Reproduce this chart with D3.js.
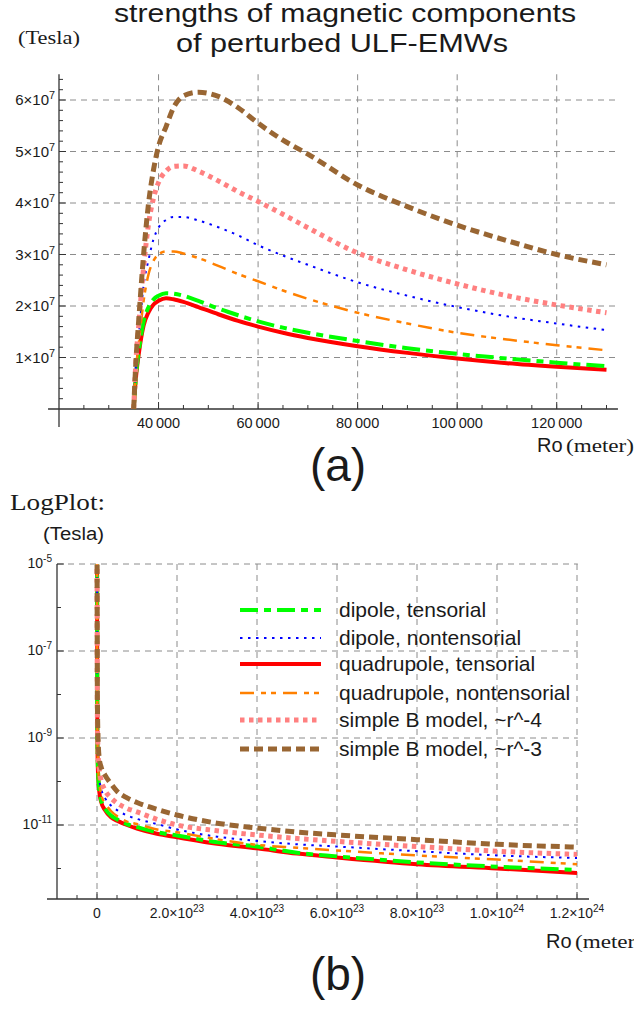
<!DOCTYPE html>
<html>
<head>
<meta charset="utf-8">
<script src="https://cdn.jsdelivr.net/npm/d3@7"></script>
<style>
body{margin:0;background:#fff}
text{font-family:"Liberation Sans",Arial,sans-serif;fill:#1a1a1a}
.serif{font-family:"Liberation Serif","DejaVu Serif",serif}
</style>
</head>
<body>
<svg id="chart" width="634" height="1010"></svg>
<script>
"use strict";

// ---- data ----
const seriesNames = ["dipole, tensorial", "dipole, nontensorial", "quadrupole, tensorial",
  "quadrupole, nontensorial", "simple B model, ~r^-4", "simple B model, ~r^-3"];

// (a) linear plot, Ro in meter
const topR = [35000, 35500, 36000, 37000, 38000, 39000, 40000, 41500, 43000, 45000, 48000,
  52000, 56000, 60000, 65000, 70000, 80000, 90000, 100000, 110000, 120000, 130000];
const topDipoleT = [0, 0.7e7, 1.1e7, 1.7e7, 1.98e7, 2.13e7, 2.2e7, 2.25e7, 2.24e7, 2.2e7, 2.1e7,
  1.95e7, 1.82e7, 1.7e7, 1.58e7, 1.48e7, 1.32e7, 1.18e7, 1.07e7, 0.98e7, 0.9e7, 0.83e7];
const topDipoleN = [0, 0.9e7, 1.4e7, 2.4e7, 2.9e7, 3.3e7, 3.52e7, 3.67e7, 3.73e7, 3.73e7, 3.66e7,
  3.53e7, 3.37e7, 3.18e7, 2.98e7, 2.8e7, 2.46e7, 2.2e7, 1.98e7, 1.8e7, 1.66e7, 1.53e7];
const topQuadT = [0, 0.65e7, 1.05e7, 1.62e7, 1.88e7, 2.03e7, 2.1e7, 2.15e7, 2.13e7, 2.08e7, 1.98e7,
  1.84e7, 1.71e7, 1.6e7, 1.48e7, 1.38e7, 1.22e7, 1.09e7, 0.98e7, 0.89e7, 0.82e7, 0.76e7];
const topQuadN = [0, 0.8e7, 1.25e7, 2.1e7, 2.62e7, 2.88e7, 3.0e7, 3.06e7, 3.06e7, 3.02e7, 2.93e7,
  2.78e7, 2.62e7, 2.48e7, 2.3e7, 2.14e7, 1.87e7, 1.66e7, 1.48e7, 1.35e7, 1.24e7, 1.14e7];
const topSimple4 = [0, 1.0e7, 1.6e7, 2.75e7, 3.6e7, 4.1e7, 4.4e7, 4.62e7, 4.71e7, 4.72e7, 4.62e7,
  4.43e7, 4.22e7, 4.03e7, 3.78e7, 3.52e7, 3.03e7, 2.7e7, 2.43e7, 2.2e7, 2.02e7, 1.87e7];
const topSimple3 = [0, 1.0e7, 1.7e7, 3.0e7, 4.0e7, 4.65e7, 5.1e7, 5.48e7, 5.85e7, 6.08e7, 6.15e7,
  6.07e7, 5.85e7, 5.55e7, 5.22e7, 4.95e7, 4.35e7, 3.93e7, 3.57e7, 3.27e7, 3.0e7, 2.8e7];

// (b) log plot
const logR = [1e20, 1e21, 3e21, 6e21, 1e22, 2e22, 3.5e22, 5e22, 7.5e22, 1e23, 1.5e23, 2e23,
  3e23, 4e23, 5e23, 6e23, 8e23, 1e24, 1.2e24];
const logDipoleT = [2e-5, 7.9e-10, 1.4e-10, 6.3e-11, 3.8e-11, 2.4e-11, 1.66e-11, 1.35e-11, 1.05e-11,
  8.9e-12, 6.8e-12, 5.75e-12, 4.0e-12, 3.2e-12, 2.3e-12, 1.9e-12, 1.38e-12, 1.1e-12, 9.3e-13];
const logDipoleN = [2e-5, 1.6e-9, 2.5e-10, 1.1e-10, 7.1e-11, 4.2e-11, 2.8e-11, 2.2e-11, 1.66e-11,
  1.38e-11, 1.05e-11, 7.9e-12, 5.4e-12, 4.3e-12, 3.6e-12, 3.2e-12, 2.5e-12, 2.0e-12, 1.74e-12];
const logQuadT = [2e-5, 7.1e-10, 1.26e-10, 5.6e-11, 3.5e-11, 2.2e-11, 1.5e-11, 1.26e-11, 1.0e-11,
  8.3e-12, 6.3e-12, 5.25e-12, 3.7e-12, 2.9e-12, 2.2e-12, 1.8e-12, 1.26e-12, 1.0e-12, 7.9e-13];
const logQuadN = [2e-5, 1.26e-9, 2.0e-10, 8.9e-11, 5.2e-11, 3.2e-11, 2.1e-11, 1.6e-11, 1.2e-11,
  1.05e-11, 7.9e-12, 6.8e-12, 4.7e-12, 3.5e-12, 3.0e-12, 2.6e-12, 2.0e-12, 1.6e-12, 1.26e-12];
const logSimple4 = [2e-5, 2.5e-9, 4.0e-10, 1.8e-10, 1.1e-10, 6.3e-11, 4.2e-11, 3.2e-11, 2.4e-11,
  2.0e-11, 1.35e-11, 1.0e-11, 7.4e-12, 5.9e-12, 4.9e-12, 4.2e-12, 3.2e-12, 2.5e-12, 2.1e-12];
const logSimple3 = [2e-5, 6.3e-9, 7.9e-10, 3.2e-10, 2.2e-10, 1.4e-10, 8.9e-11, 6.0e-11, 4.2e-11,
  3.3e-11, 2.3e-11, 1.7e-11, 1.1e-11, 8.5e-12, 6.9e-12, 5.9e-12, 4.6e-12, 3.6e-12, 3.1e-12];

// tick labels
const topXTicks = [40000, 60000, 80000, 100000, 120000];
const topXLabels = ["40\u2009000", "60\u2009000", "80\u2009000", "100\u2009000", "120\u2009000"];
const topYTicks = [1e7, 2e7, 3e7, 4e7, 5e7, 6e7];
const topYLabels = ["1", "2", "3", "4", "5", "6"];
const logXTicks = [0, 2e23, 4e23, 6e23, 8e23, 1e24, 1.2e24];
const logXLabels = [["0", ""], ["2.0\u00d710", "23"], ["4.0\u00d710", "23"], ["6.0\u00d710", "23"],
  ["8.0\u00d710", "23"], ["1.0\u00d710", "24"], ["1.2\u00d710", "24"]];
const logYTicks = [1e-5, 1e-7, 1e-9, 1e-11];
const logYLabels = ["-5", "-7", "-9", "-11"];
const logYMinor = [1e-6, 1e-8, 1e-10, 1e-12];

// ---- styles ----
const colors = ["#00ff00", "#0000ff", "#ff0000", "#ff8000", "#ff8080", "#996633"];
const widths = [4, 2, 4, 2.5, 5, 5];
const dashes = ["18,6,7,6", "2.5,5.5", null, "14,7,5,5,5,7", "4.5,4.5", "9,5"];
const drawOrder = [2, 0, 1, 3, 4, 5];

const svg = d3.select("#chart");
const gridColor = "#8c8c8c";
const axisColor = "#333";

function supText(g, x, y, base, sup, anchor, size) {
  const t = g.append("text").attr("x", x).attr("y", y).attr("font-size", size)
    .attr("text-anchor", anchor);
  t.append("tspan").text(base);
  if (sup) t.append("tspan").attr("dy", -6).attr("font-size", size * 0.72).text(sup);
  return t;
}

// ================= (a) =================
const ga = svg.append("g");
const xa = d3.scaleLinear().domain([20000, 130000]).range([59, 606.5]);
const ya = d3.scaleLinear().domain([0, 6e7]).range([409, 100]);

// grid
ga.selectAll(".vg").data(topXTicks).join("line")
  .attr("x1", d => xa(d)).attr("x2", d => xa(d))
  .attr("y1", ya(6.5e7)).attr("y2", ya(0))
  .attr("stroke", gridColor).attr("stroke-dasharray", "6,5");
ga.selectAll(".hg").data(topYTicks).join("line")
  .attr("x1", xa(20000)).attr("x2", xa(132300))
  .attr("y1", d => ya(d)).attr("y2", d => ya(d))
  .attr("stroke", gridColor).attr("stroke-dasharray", "6,5");

// axes
const axA = ga.append("g").attr("stroke", axisColor);
axA.append("line").attr("x1", xa(17800)).attr("x2", xa(132300)).attr("y1", ya(0)).attr("y2", ya(0)).attr("stroke-width", 1.3);
axA.append("line").attr("x1", xa(20000)).attr("x2", xa(20000)).attr("y1", ya(6.5e7)).attr("y2", ya(-0.35e7)).attr("stroke-width", 1.3);

const xaMinor = d3.range(25000, 130001, 5000).filter(d => !topXTicks.includes(d));
axA.selectAll(".xt").data(xaMinor).join("line")
  .attr("x1", d => xa(d)).attr("x2", d => xa(d)).attr("y1", ya(0)).attr("y2", ya(0) - 4);
axA.selectAll(".xT").data(topXTicks).join("line")
  .attr("x1", d => xa(d)).attr("x2", d => xa(d)).attr("y1", ya(0)).attr("y2", ya(0) - 7);
const yaMinor = d3.range(2e6, 6.5e7, 2e6).filter(d => !topYTicks.some(t => Math.abs(t - d) < 1));
axA.selectAll(".yt").data(yaMinor).join("line")
  .attr("x1", xa(20000)).attr("x2", xa(20000) + 4).attr("y1", d => ya(d)).attr("y2", d => ya(d));
axA.selectAll(".yT").data(topYTicks).join("line")
  .attr("x1", xa(20000)).attr("x2", xa(20000) + 7).attr("y1", d => ya(d)).attr("y2", d => ya(d));

topXTicks.forEach((d, i) => {
  ga.append("text").attr("x", xa(d)).attr("y", ya(0) + 19).attr("font-size", 14.5)
    .attr("text-anchor", "middle").text(topXLabels[i]);
});
topYTicks.forEach((d, i) => {
  supText(ga, 55, ya(d) + 5, topYLabels[i] + "\u00d710", "7", "end", 15);
});

// curves
const topSeries = [topDipoleT, topDipoleN, topQuadT, topQuadN, topSimple4, topSimple3];
const lineA = d3.line().x((d, i) => xa(topR[i])).y(d => ya(d)).curve(d3.curveMonotoneX);
drawOrder.forEach(k => {
  ga.append("path").datum(topSeries[k]).attr("d", lineA)
    .attr("fill", "none").attr("stroke", colors[k]).attr("stroke-width", widths[k])
    .attr("stroke-dasharray", dashes[k]);
});

// texts
svg.append("text").attr("x", 345).attr("y", 22).attr("font-size", 25).attr("text-anchor", "middle")
  .attr("textLength", 462).attr("lengthAdjust", "spacingAndGlyphs").text("strengths of magnetic components");
svg.append("text").attr("x", 342).attr("y", 52).attr("font-size", 25).attr("text-anchor", "middle")
  .attr("textLength", 332).attr("lengthAdjust", "spacingAndGlyphs").text("of perturbed ULF-EMWs");
svg.append("text").attr("class", "serif").attr("x", 18).attr("y", 44).attr("font-size", 19)
  .attr("textLength", 62).attr("lengthAdjust", "spacingAndGlyphs").text("(Tesla)");

svg.append("text").attr("x", 537).attr("y", 452).attr("font-size", 20).text("Ro");
svg.append("text").attr("class", "serif").attr("x", 566).attr("y", 452).attr("font-size", 19)
  .attr("textLength", 68).attr("lengthAdjust", "spacingAndGlyphs").text("(meter)");
svg.append("text").attr("x", 338).attr("y", 481).attr("font-size", 46).attr("text-anchor", "middle").text("(a)");

// ================= (b) =================
const gb = svg.append("g");
const xb = d3.scaleLinear().domain([-1e23, 1.2e24]).range([57, 577]);
const yb = d3.scaleLog().domain([1e-5, 1e-11]).range([564, 825]);
const yAxisB = 899;

gb.selectAll(".vg").data(logXTicks).join("line")
  .attr("x1", d => xb(d)).attr("x2", d => xb(d)).attr("y1", yb(1e-5)).attr("y2", yAxisB)
  .attr("stroke", gridColor).attr("stroke-dasharray", "6,5");
gb.selectAll(".hg").data(logYTicks).join("line")
  .attr("x1", xb(-1e23)).attr("x2", xb(1.202e24)).attr("y1", d => yb(d)).attr("y2", d => yb(d))
  .attr("stroke", gridColor).attr("stroke-dasharray", "6,5");

const axB = gb.append("g").attr("stroke", axisColor);
axB.append("line").attr("x1", xb(-1.25e23)).attr("x2", xb(1.23e24)).attr("y1", yAxisB).attr("y2", yAxisB).attr("stroke-width", 1.3);
axB.append("line").attr("x1", xb(-1e23)).attr("x2", xb(-1e23)).attr("y1", yb(1e-5)).attr("y2", yAxisB).attr("stroke-width", 1.3);
const xbMinor = d3.range(-0.5e23, 1.2e24, 0.5e23).filter(d => !logXTicks.some(t => Math.abs(t - d) < 1e20));
axB.selectAll(".xt").data(xbMinor).join("line")
  .attr("x1", d => xb(d)).attr("x2", d => xb(d)).attr("y1", yAxisB).attr("y2", yAxisB - 4);
axB.selectAll(".xT").data(logXTicks).join("line")
  .attr("x1", d => xb(d)).attr("x2", d => xb(d)).attr("y1", yAxisB).attr("y2", yAxisB - 7);
axB.selectAll(".yt").data(logYMinor).join("line")
  .attr("x1", xb(-1e23)).attr("x2", xb(-1e23) + 4).attr("y1", d => yb(d)).attr("y2", d => yb(d));
axB.selectAll(".yT").data(logYTicks).join("line")
  .attr("x1", xb(-1e23)).attr("x2", xb(-1e23) + 7).attr("y1", d => yb(d)).attr("y2", d => yb(d));

logXTicks.forEach((d, i) => {
  supText(gb, xb(d), yAxisB + 19, logXLabels[i][0], logXLabels[i][1], "middle", 14);
});
logYTicks.forEach((d, i) => {
  supText(gb, 52, yb(d) + 4, "10", logYLabels[i], "end", 14);
});

gb.append("clipPath").attr("id", "clipB").append("rect")
  .attr("x", 40).attr("y", yb(1e-5)).attr("width", 560).attr("height", yAxisB - yb(1e-5));
const logSeries = [logDipoleT, logDipoleN, logQuadT, logQuadN, logSimple4, logSimple3];
const lineB = d3.line().x((d, i) => xb(logR[i])).y(d => yb(d)).curve(d3.curveMonotoneX);
const curvesB = gb.append("g").attr("clip-path", "url(#clipB)");
drawOrder.forEach(k => {
  curvesB.append("path").datum(logSeries[k]).attr("d", lineB)
    .attr("fill", "none").attr("stroke", colors[k]).attr("stroke-width", widths[k])
    .attr("stroke-dasharray", dashes[k]);
});

// legend
const legendY = [610, 638, 664, 693, 720, 749];
seriesNames.forEach((name, k) => {
  gb.append("line").attr("x1", 240).attr("x2", 321).attr("y1", legendY[k]).attr("y2", legendY[k])
    .attr("stroke", colors[k]).attr("stroke-width", widths[k]).attr("stroke-dasharray", dashes[k]);
  gb.append("text").attr("x", 339).attr("y", legendY[k] + 7).attr("font-size", 21).text(name);
});

svg.append("text").attr("class", "serif").attr("x", 10).attr("y", 510).attr("font-size", 24)
  .attr("textLength", 95).attr("lengthAdjust", "spacingAndGlyphs").text("LogPlot:");
svg.append("text").attr("x", 43).attr("y", 540).attr("font-size", 18)
  .attr("textLength", 61).attr("lengthAdjust", "spacingAndGlyphs").text("(Tesla)");
svg.append("text").attr("x", 546).attr("y", 948).attr("font-size", 20).text("Ro");
svg.append("text").attr("class", "serif").attr("x", 575).attr("y", 948).attr("font-size", 19)
  .attr("textLength", 68).attr("lengthAdjust", "spacingAndGlyphs").text("(meter)");
svg.append("text").attr("x", 338).attr("y", 990).attr("font-size", 46).attr("text-anchor", "middle").text("(b)");
</script>
</body>
</html>
